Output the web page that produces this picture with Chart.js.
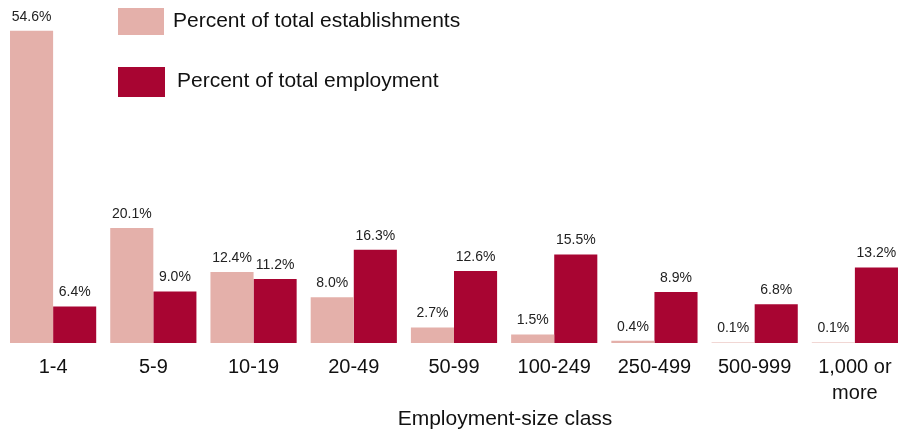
<!DOCTYPE html>
<html>
<head>
<meta charset="utf-8">
<script src="https://cdn.jsdelivr.net/npm/chart.js"></script>
<style>
  body { margin: 0; background: #fff; }
  #wrap { position: relative; width: 918px; height: 430px; }
  .lg { position: absolute; font-family: "Liberation Sans", Arial, sans-serif; font-size: 21px; line-height: 24px; color: #111; white-space: nowrap; }
  .box { position: absolute; }
</style>
</head>
<body>
<div id="wrap">
  <canvas id="myChart" width="918" height="430"></canvas>
  <div class="box" style="left:118px;top:8px;width:46px;height:27px;background:#E4B0AA"></div>
  <div class="lg" style="left:173px;top:8px">Percent of total establishments</div>
  <div class="box" style="left:118px;top:67px;width:47px;height:30px;background:#A80532"></div>
  <div class="lg" style="left:177px;top:68px">Percent of total employment</div>
</div>
<script>
// 카테고리 및 데이터
const categories = ['1-4', '5-9', '10-19', '20-49', '50-99', '100-249', '250-499', '500-999', ['1,000 or', 'more']];
const establishments = [54.6, 20.1, 12.4, 8.0, 2.7, 1.5, 0.4, 0.1, 0.1];
const employment = [6.4, 9.0, 11.2, 16.3, 12.6, 15.5, 8.9, 6.8, 13.2];
const xTitle = 'Employment-size class';

// 막대 위 값 표시 + x축 제목 (원본처럼 오른쪽으로 치우침)
const barLabels = {
  id: 'barLabels',
  afterDatasetsDraw(chart) {
    const ctx = chart.ctx;
    ctx.save();
    ctx.font = '14px "Liberation Sans", Arial, sans-serif';
    ctx.fillStyle = '#222';
    ctx.textAlign = 'center';
    ctx.textBaseline = 'bottom';
    chart.data.datasets.forEach((ds, i) => {
      chart.getDatasetMeta(i).data.forEach((bar, j) => {
        ctx.fillText(ds.data[j].toFixed(1) + '%', bar.x, bar.y - 7);
      });
    });
    const xs = chart.scales.x;
    ctx.font = '21px "Liberation Sans", Arial, sans-serif';
    ctx.fillStyle = '#111';
    ctx.textBaseline = 'middle';
    ctx.fillText(xTitle, (xs.left + xs.right) / 2 + 51, xs.bottom - 11);
    ctx.restore();
  }
};

let ctx = document.getElementById('myChart').getContext('2d');
let myChart = new Chart(ctx, {
  type: 'bar',
  data: {
    labels: categories,
    datasets: [{
      label: 'Percent of total establishments',
      data: establishments,
      backgroundColor: '#E4B0AA'
    }, {
      label: 'Percent of total employment',
      data: employment,
      backgroundColor: '#A80532'
    }]
  },
  options: {
    responsive: false,
    animation: false,
    layout: { padding: { left: 3, right: 13, top: 0, bottom: 0 } },
    datasets: { bar: { categoryPercentage: 0.86, barPercentage: 1.0 } },
    plugins: { legend: { display: false }, tooltip: { enabled: false } },
    scales: {
      x: {
        grid: { display: false, drawTicks: false },
        border: { display: false },
        afterFit(scale) { scale.height = 87; },
        ticks: {
          color: '#111',
          font: { family: '"Liberation Sans", Arial, sans-serif', size: 20, lineHeight: 1.3 },
          padding: 11,
          maxRotation: 0,
          autoSkip: false
        },
        title: { display: false }
      },
      y: {
        display: false,
        min: 0,
        max: 60
      }
    }
  },
  plugins: [barLabels]
});
</script>
</body>
</html>
